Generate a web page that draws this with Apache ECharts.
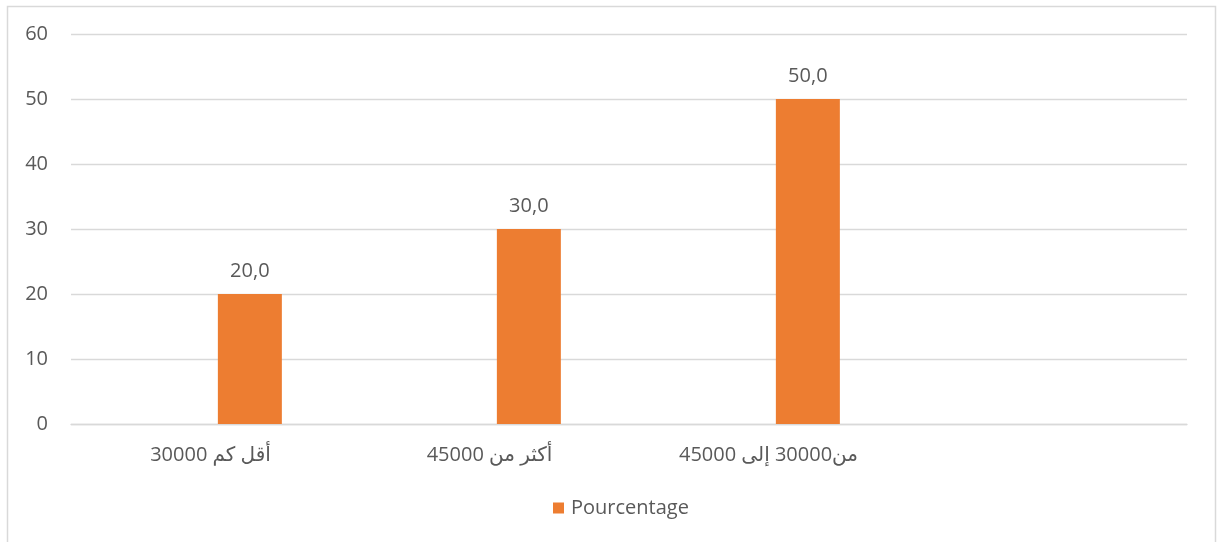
<!DOCTYPE html>
<html>
<head>
<meta charset="utf-8">
<script src="https://cdn.jsdelivr.net/npm/echarts@6/dist/echarts.min.js"></script>
<style>
html,body{margin:0;padding:0;background:#fff;}
#chart{width:1217px;height:542px;}
</style>
</head>
<body>
<div id="chart"></div>
<script>
var categories = ['أقل كم 30000', 'أكثر من 45000', 'من30000 إلى 45000', ''];
var seriesName = 'Pourcentage';
var pourcentage = [20.0, 30.0, 50.0, null];
var emptySeries = [null, null, null, null];
var yTicks = [0, 10, 20, 30, 40, 50, 60];

var FONT = '"Open Sans", "DejaVu Sans", sans-serif';
var TXT = '#595959';

var chart = echarts.init(document.getElementById('chart'), null, {renderer: 'canvas'});
chart.setOption({
  animation: false,
  backgroundColor: '#ffffff',
  textStyle: {fontFamily: FONT},
  graphic: [{
    type: 'rect',
    shape: {x: 7.5, y: 6.5, width: 1208, height: 600},
    style: {fill: 'none', stroke: '#d9d9d9', lineWidth: 1.5},
    silent: true, z: -1
  }],
  grid: {left: 71, right: 30, top: 34, bottom: 118, containLabel: false},
  legend: {
    data: [seriesName],
    left: 548, top: 493,
    icon: 'rect', itemWidth: 11, itemHeight: 11, itemGap: 10,
    textStyle: {fontSize: 20, color: TXT, fontFamily: FONT, padding: [0, 0, 0, 2]}
  },
  xAxis: {
    type: 'category',
    data: categories,
    axisLine: {show: true, lineStyle: {color: '#d9d9d9', width: 1.3}},
    axisTick: {show: false},
    axisLabel: {fontSize: 20, color: TXT, margin: 21, fontFamily: FONT, interval: 0}
  },
  yAxis: {
    type: 'value',
    min: yTicks[0], max: yTicks[yTicks.length - 1], interval: 10,
    axisLine: {show: false},
    axisTick: {show: false},
    splitLine: {lineStyle: {color: '#d9d9d9', width: 1.3}},
    axisLabel: {fontSize: 20, color: TXT, margin: 23, fontFamily: FONT}
  },
  series: [
    {
      name: '',
      type: 'bar',
      data: emptySeries,
      barWidth: 64,
      barGap: '23%',
      silent: true
    },
    {
      name: seriesName,
      type: 'bar',
      data: pourcentage,
      barWidth: 64,
      barGap: '23%',
      itemStyle: {color: '#ED7D31'},
      label: {
        show: true,
        position: 'top',
        distance: 13,
        fontSize: 20,
        color: TXT,
        fontFamily: FONT,
        formatter: function (p) { return p.value == null ? '' : p.value.toFixed(1).replace('.', ','); }
      }
    }
  ]
});
</script>
</body>
</html>
